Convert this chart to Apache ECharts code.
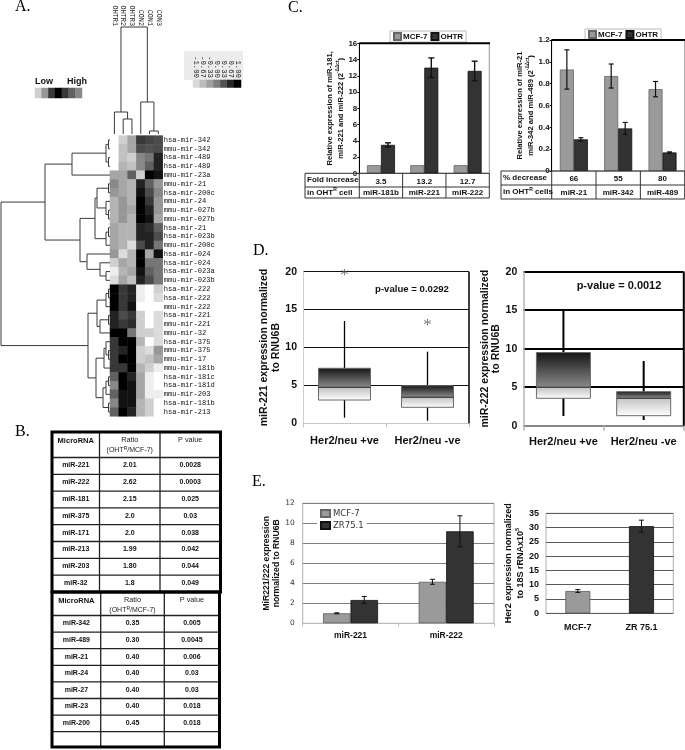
<!DOCTYPE html>
<html><head><meta charset="utf-8">
<script src="https://cdn.jsdelivr.net/npm/echarts@6/dist/echarts.min.js"></script>
<style>html,body{margin:0;padding:0;background:#fff}#main{width:685px;height:750px}</style>
</head><body><div id="main"></div>
<script>
// ================= DATA =================
// Panel A heatmap
const hmColumns = ['OHTR1','OHTR2','OHTR3','CON2','CON1','CON3'];
const hmRows = ['hsa-mir-342','mmu-mir-342','hsa-mir-489','hsa-mir-489','mmu-mir-23a','mmu-mir-21','hsa-mir-200c','mmu-mir-24','mmu-mir-027b','mmu-mir-027b','hsa-mir-21','hsa-mir-023b','mmu-mir-200c','hsa-mir-024','hsa-mir-024','hsa-mir-023a','mmu-mir-023b','hsa-mir-222','hsa-mir-222','mmu-mir-222','hsa-mir-221','mmu-mir-221','mmu-mir-32','hsa-mir-375','mmu-mir-375','mmu-mir-17','mmu-mir-181b','hsa-mir-181c','hsa-mir-181d','mmu-mir-203','hsa-mir-181b','hsa-mir-213'];
const hmValues = [
 [-1.33,-0.87,-0.40, 0.53, 0.45, 0.38],
 [-1.33,-0.71,-0.40, 0.38, 0.33, 0.38],
 [-1.33,-0.71,-0.87,-0.09, 0.07, 0.69],
 [-1.33,-0.56,-0.71,-0.09, 0.22, 0.69],
 [-0.40,-0.40, 0.22,-0.87, 1.00, 0.84],
 [-0.09,-0.40,-0.56, 0.69, 0.22,-0.24],
 [-0.24,-0.40,-0.56, 0.84, 0.38,-0.09],
 [-0.56,-0.24,-0.56, 1.00, 0.53,-0.24],
 [-0.56,-0.24,-0.40, 1.00, 0.69,-0.24],
 [-0.56,-0.24,-0.56, 1.00, 0.84,-0.40],
 [-0.40,-0.56,-0.56, 0.69, 0.62, 0.22],
 [-0.40,-0.56,-0.56, 0.69, 0.69, 0.38],
 [-0.40,-0.56,-1.02, 0.38, 0.69, 0.07],
 [-0.24,-1.02,-0.56, 1.00,-0.40, 0.84],
 [-0.87,-0.40,-0.56, 1.00, 0.07, 0.07],
 [-1.18,-0.56,-0.40, 0.84, 0.22, 0.07],
 [-1.02,-0.40,-0.71, 0.69, 0.38, 0.07],
 [ 1.00, 0.53, 0.69,-1.18,-1.33,-0.87],
 [ 1.00, 0.53, 0.69,-1.18,-1.33,-1.02],
 [ 1.00, 0.53, 0.84,-1.33,-1.33,-1.33],
 [ 0.69, 0.38, 0.53,-0.87,-1.33,-1.02],
 [ 0.69, 0.53, 0.62,-0.87,-1.33,-1.02],
 [ 1.00, 1.00, 0.07,-0.87,-0.87,-1.02],
 [ 0.53, 1.00, 1.00,-0.56,-1.33,-1.02],
 [ 0.53, 0.69, 1.00,-0.87,-1.02,-0.24],
 [ 0.53, 1.00, 1.00,-0.87,-0.71,-0.40],
 [ 0.53, 0.53, 1.00,-0.56,-0.87,-1.18],
 [ 0.22, 1.00, 0.69,-0.40,-1.18,-1.33],
 [-0.09, 1.00, 0.84,-0.40,-1.18,-1.33],
 [ 0.22, 0.84, 0.84,-0.40,-1.18,-1.18],
 [-0.09, 0.84, 0.84,-0.56,-0.87,-1.33],
 [ 0.22, 1.00, 0.69,-0.56,-0.87,-1.33]
];
const scaleTicks = ['-1.00','-0.67','-0.33','0.00','0.33','0.67','1.00'];
const scaleValues = [-1,-0.67,-0.33,0,0.33,0.67,1];
const lowHighValues = [-0.87,-0.24,0.53,1.0,0.53,0.22,-0.09];
// cluster trees (h = merge height; leaves = row / column index)
const rowTree = {h:109, c:[
 {h:65, c:[
   {h:38, c:[{h:4, c:[{h:1.5,c:[0,1]},{h:1.5,c:[2,3]}]}, 4]},
   {h:30, c:[
     {h:15, c:[{h:13, c:[{h:1.5,c:[5,6]},{h:4,c:[7,{h:1.5,c:[8,9]}]}]},{h:4,c:[{h:1.5,c:[10,11]},12]}]},
     {h:23, c:[13,{h:10,c:[14,{h:4,c:[15,16]}]}]}
   ]}
 ]},
 {h:22, c:[
   {h:13, c:[{h:4,c:[{h:1.5,c:[17,18]},19]},{h:10,c:[{h:1.5,c:[20,21]},22]}]},
   {h:14, c:[{h:6,c:[{h:4,c:[23,{h:1.5,c:[24,25]}]},26]},{h:7,c:[{h:4,c:[{h:1.5,c:[27,28]},29]},{h:1.5,c:[30,31]}]}]}
 ]}
]};
const colTree = {h:107, c:[{h:22, c:[0,{h:15,c:[1,2]}]},{h:32,c:[3,{h:3,c:[4,5]}]}]};

// Panel B tables
const tUpNames = ['miR-221','miR-222','miR-181','miR-375','miR-171','miR-213','miR-203','miR-32'];
const tUpRatio = ['2.01','2.62','2.15','2.0','2.0','1.99','1.80','1.8'];
const tUpP = ['0.0028','0.0003','0.025','0.03','0.038','0.042','0.044','0.049'];
const tDownNames = ['miR-342','miR-489','miR-21','miR-24','miR-27','miR-23','miR-200'];
const tDownRatio = ['0.35','0.30','0.40','0.40','0.40','0.40','0.45'];
const tDownP = ['0.005','0.0045','0.006','0.03','0.03','0.018','0.018'];

// Panel C
const cLeftCats = ['miR-181b','miR-221','miR-222'];
const cLeftFold = ['3.5','13.2','12.7'];
const cLeftMCF7 = [1.0,1.0,1.0];
const cLeftOHTR = [3.5,13.0,12.6];
const cLeftOHTRErr = [0.25,1.2,1.2];
const cRightCats = ['miR-21','miR-342','miR-489'];
const cRightDecrease = ['66','55','80'];
const cRightMCF7 = [0.93,0.87,0.75];
const cRightMCF7Err = [0.18,0.11,0.07];
const cRightOHTR = [0.29,0.39,0.17];
const cRightOHTRErr = [0.015,0.055,0.005];

// Panel D  [min, Q1, median, Q3, max]
const dCats = ['Her2/neu +ve','Her2/neu -ve'];
const dLeftStats = [[0.74,3.07,4.75,7.26,13.5],[0.34,2.11,3.43,4.96,9.45]];
const dLeftStars = [[0,19.56],[1,12.84]];
const dRightStats = [[1.26,3.56,5.0,9.5,14.9],[0.74,1.3,3.56,4.42,8.4]];

// Panel E
const eLeftCats = ['miR-221','miR-222'];
const eLeftMCF7 = [1.0,4.15];
const eLeftMCF7Err = [0.05,0.25];
const eLeftZR = [2.33,9.2];
const eLeftZRErr = [0.35,1.55];
const eRightCats = ['MCF-7','ZR 75.1'];
const eRightVals = [7.8,30.5];
const eRightErr = [0.5,2.1];

// ================= STYLE / HELPERS =================
const SANS = 'Liberation Sans, Arial, sans-serif';
const MONO = 'Liberation Mono, Courier New, monospace';
const SERIF = 'Liberation Serif, Times New Roman, serif';
const eRightColors = ['#9a9a9a','#333333'];

function T(x, y, text, o) {
  o = o || {};
  const al = o.align || 'center';
  const st = Object.assign({text: text, fill:'#111', fontFamily:SANS, fontSize:8, fontWeight:'bold',
     align:al, textAlign:al, verticalAlign:'middle', textVerticalAlign:'middle'}, o);
  return {type:'text', x:x, y:y, z:100, silent:true, style:st};
}
function L(x1,y1,x2,y2,c,w){ return {type:'line', z:100, silent:true, shape:{x1,y1,x2,y2}, style:{stroke:c, lineWidth:w}}; }

function dendroSegments(tree) {
  const segs = [];
  function walk(n) {
    if (typeof n === 'number') return {pos:n, h:0};
    const kids = n.c.map(walk);
    const pos = kids.reduce((s,k)=>s+k.pos,0)/kids.length;
    kids.forEach(k => segs.push([k.pos, k.h, k.pos, n.h]));
    segs.push([kids[0].pos, n.h, kids[kids.length-1].pos, n.h]);
    return {pos, h:n.h};
  }
  walk(tree);
  return segs;
}
function dendroSeries(xi, yi, segs) {
  return {type:'custom', xAxisIndex:xi, yAxisIndex:yi, data:segs, encode:{x:[0,2], y:[1,3]}, silent:true,
    renderItem(params, api){
      const a = api.coord([api.value(0), api.value(1)]), b = api.coord([api.value(2), api.value(3)]);
      return {type:'line', shape:{x1:a[0],y1:a[1],x2:b[0],y2:b[1]}, style:{stroke:'#3a3a3a', lineWidth:1}};
    }};
}
function errSeries(xi, yi, means, errs, offset, cap, lw) {
  return {type:'custom', xAxisIndex:xi, yAxisIndex:yi, z:10, silent:true,
    data: means.map((m,i)=>[i, m-errs[i], m+errs[i]]), encode:{x:0, y:[1,2]},
    renderItem(params, api){
      const i = api.value(0);
      const lo = api.coord([i, api.value(1)]), hi = api.coord([i, api.value(2)]);
      const x = lo[0] + offset;
      const st = {stroke:'#111', lineWidth:lw||1.2};
      return {type:'group', children:[
        {type:'line', shape:{x1:x,y1:hi[1],x2:x,y2:lo[1]}, style:st},
        {type:'line', shape:{x1:x-cap,y1:hi[1],x2:x+cap,y2:hi[1]}, style:st},
        {type:'line', shape:{x1:x-cap,y1:lo[1],x2:x+cap,y2:lo[1]}, style:st}]};
    }};
}
function boxSeries(xi, yi, stats, opt) {
  return {type:'custom', xAxisIndex:xi, yAxisIndex:yi, silent:true, z:5,
    data: stats.map((s,i)=>[i].concat(s)), encode:{x:0, y:[1,2,3,4,5]},
    renderItem(params, api){
      const i = api.value(0);
      const pMin=api.coord([i,api.value(1)]), pQ1=api.coord([i,api.value(2)]), pMd=api.coord([i,api.value(3)]),
            pQ3=api.coord([i,api.value(4)]), pMax=api.coord([i,api.value(5)]);
      const x = pMin[0], w = opt.boxW;
      const f = Math.max(0.01, Math.min(0.98, (pMd[1]-pQ3[1])/(pQ1[1]-pQ3[1])));
      const grad = new echarts.graphic.LinearGradient(0,0,0,1,[
        {offset:0,color:'#151515'},{offset:f,color:'#8a8a8a'},{offset:f+0.01,color:'#c4c4c4'},{offset:1,color:'#ffffff'}]);
      return {type:'group', children:[
        {type:'line', shape:{x1:x,y1:pMax[1],x2:x,y2:pMin[1]}, style:{stroke:'#000', lineWidth:opt.wl}},
        {type:'rect', shape:{x:x-w/2, y:pQ3[1], width:w, height:pQ1[1]-pQ3[1]}, style:{fill:grad, stroke:'#6a6a6a', lineWidth:1}},
        {type:'line', shape:{x1:x-w/2,y1:pMd[1],x2:x+w/2,y2:pMd[1]}, style:{stroke:'#2a2a2a', lineWidth:1}}
      ]};
    }};
}

// ================= BUILD =================
const hmData = [];
hmValues.forEach((row, r) => row.forEach((v, c) => hmData.push([c, r, v])));
const colSegs = dendroSegments(colTree);
const rowSegs = dendroSegments(rowTree).map(s => [s[1], s[0], s[3], s[2]]);

const gridBase = {containLabel:false, outerBoundsMode:'none', show:false};
const grids = [
  {left:110, top:135.6, width:52.7, height:280.7},    // 0 heatmap
  {left:110, top:27, width:52.7, height:107},         // 1 column dendrogram
  {left:1, top:135.6, width:109, height:280.7},       // 2 row dendrogram
  {left:193, top:80, width:48, height:7.5},           // 3 colour scale
  {left:35, top:88, width:47, height:10},             // 4 low/high bar
  {left:359.3, top:43.3, width:130, height:130, show:true, borderColor:'#999', borderWidth:1}, // 5 C left
  {left:551.7, top:40, width:133, height:131, show:true, borderColor:'#999', borderWidth:1},   // 6 C right
  {left:303, top:271.7, width:166, height:151.6},     // 7 D left
  {left:523.3, top:271.7, width:160.5, height:154},   // 8 D right
  {left:302.7, top:503.3, width:191.3, height:120, show:true, borderColor:'#b0b0b0', borderWidth:1}, // 9 E left
  {left:546, top:513.3, width:127.3, height:100, show:true, borderColor:'#b0b0b0', borderWidth:1}    // 10 E right
].map(g => Object.assign({}, gridBase, g));

const noAxis = {axisLine:{show:false}, axisTick:{show:false}, splitLine:{show:false}};
const boldLbl = (fs, extra) => Object.assign({fontFamily:SANS, fontWeight:'bold', fontSize:fs, color:'#111'}, extra||{});
const supRich = (fs, lh) => ({t:{fontFamily:SANS, fontWeight:'bold', fontSize:fs, lineHeight:lh, color:'#111'},
                              s:{fontFamily:SANS, fontWeight:'bold', fontSize:fs*0.62, lineHeight:lh, verticalAlign:'top', color:'#111'}});

const xAxis = [
  Object.assign({gridIndex:0, type:'category', data:hmColumns, position:'top', offset:108.6,
    axisLabel:{interval:0, rotate:90, margin:1, fontFamily:MONO, fontSize:6.8, color:'#111'}}, noAxis),
  {gridIndex:1, type:'value', min:-0.5, max:5.5, show:false},
  {gridIndex:2, type:'value', min:0, max:109, inverse:true, show:false},
  Object.assign({gridIndex:3, type:'category', data:scaleTicks, position:'top',
    axisLabel:{interval:0, rotate:90, margin:2, fontFamily:MONO, fontSize:7.3, color:'#111'}}, noAxis),
  {gridIndex:4, type:'category', data:lowHighValues.map((v,i)=>i), show:false},
  Object.assign({gridIndex:5, type:'category', data:cLeftCats,
    axisLabel:{interval:0, margin:2.9, formatter:(v,i)=>'{a|'+cLeftFold[i]+'}\n{a|'+v+'}',
      rich:{a:{fontFamily:SANS, fontWeight:'bold', fontSize:8, lineHeight:11, color:'#111'}}}}, noAxis),
  Object.assign({gridIndex:6, type:'category', data:cRightCats,
    axisLabel:{interval:0, margin:1.5, formatter:(v,i)=>'{a|'+cRightDecrease[i]+'}\n{a|'+v+'}',
      rich:{a:{fontFamily:SANS, fontWeight:'bold', fontSize:8, lineHeight:13.5, color:'#111'}}}}, noAxis),
  {gridIndex:7, type:'category', data:dCats, axisLine:{lineStyle:{color:'#c4c4c4'}},
    axisTick:{show:true, length:4, lineStyle:{color:'#c4c4c4'}}, splitLine:{show:false},
    axisLabel:{interval:0, margin:12.5, ...boldLbl(11)}},
  {gridIndex:8, type:'category', data:dCats, axisLine:{lineStyle:{color:'#b4b4b4', width:1.5}},
    axisTick:{show:true, length:5, lineStyle:{color:'#b4b4b4', width:1.5}}, splitLine:{show:false},
    axisLabel:{interval:0, margin:10.5, ...boldLbl(11)}},
  {gridIndex:9, type:'category', data:eLeftCats, axisLine:{lineStyle:{color:'#bbb'}},
    axisTick:{show:true, length:3, lineStyle:{color:'#bbb'}}, splitLine:{show:false},
    axisLabel:{interval:0, margin:8, ...boldLbl(8.5)}},
  {gridIndex:10, type:'category', data:eRightCats, axisLine:{show:false}, axisTick:{show:false}, splitLine:{show:false},
    axisLabel:{interval:0, margin:10, ...boldLbl(9)}}
];

const yAxis = [
  Object.assign({gridIndex:0, type:'category', data:hmRows, inverse:true, position:'right',
    axisLabel:{interval:0, margin:1, fontFamily:MONO, fontSize:7.1, color:'#111'}}, noAxis),
  {gridIndex:1, type:'value', min:0, max:107, show:false},
  {gridIndex:2, type:'value', min:-0.5, max:31.5, inverse:true, show:false},
  {gridIndex:3, type:'category', data:['s'], show:false},
  {gridIndex:4, type:'category', data:['s'], show:false},
  {gridIndex:5, type:'value', min:0, max:16, interval:2,
    axisLine:{show:true, lineStyle:{color:'#000', width:1}}, axisTick:{show:true, length:2, lineStyle:{color:'#000'}},
    splitLine:{show:false}, axisLabel:{margin:2, ...boldLbl(8)},
    name:'{t|Relative expression of miR-181,}\n{t|miR-221 and miR-222 (2}{s|-ΔΔct}{t|)}',
    nameLocation:'middle', nameRotate:90, nameGap:12.5, nameTextStyle:{rich:supRich(7.6,10.5)}},
  {gridIndex:6, type:'value', min:0, max:1.2, interval:0.2,
    axisLine:{show:true, lineStyle:{color:'#000', width:1}}, axisTick:{show:true, length:2, lineStyle:{color:'#000'}},
    splitLine:{show:false}, axisLabel:{margin:2, formatter:v=> v===0 ? '0' : v.toFixed(1), ...boldLbl(8)},
    name:'{t|Relative expression of miR-21}\n{t|miR-342 and miR-489 (2}{s|-ΔΔct}{t|)}',
    nameLocation:'middle', nameRotate:90, nameGap:15, nameTextStyle:{rich:supRich(7.6,10.5)}},
  {gridIndex:7, type:'value', min:0, max:20, interval:5,
    axisLine:{show:true, lineStyle:{color:'#cfcfcf'}}, axisTick:{show:false},
    splitLine:{show:true, lineStyle:{color:'#111', width:1}}, axisLabel:{margin:6, ...boldLbl(10.5)},
    name:'{t|miR-221 expression normalized}\n{t|to RNU6B}', nameLocation:'middle', nameRotate:90, nameGap:16,
    nameTextStyle:{rich:supRich(10.5,12)}},
  {gridIndex:8, type:'value', min:0, max:20, interval:5,
    axisLine:{show:true, lineStyle:{color:'#b4b4b4', width:1.5}}, axisTick:{show:false},
    splitLine:{show:true, lineStyle:{color:'#000', width:2}}, axisLabel:{margin:6, ...boldLbl(10.5)},
    name:'{t|miR-222 expression normalized}\n{t|to RNU6B}', nameLocation:'middle', nameRotate:90, nameGap:17,
    nameTextStyle:{rich:supRich(10.5,11)}},
  {gridIndex:9, type:'value', min:0, max:12, interval:2,
    axisLine:{show:false}, axisTick:{show:false},
    splitLine:{show:true, lineStyle:{color:'#808080', width:1}},
    axisLabel:{margin:8, fontFamily:'DejaVu Sans, Verdana, sans-serif', fontSize:7.5, color:'#333'},
    name:'{t|MiR221/222 expression}\n{t|normalized to RNU6B}', nameLocation:'middle', nameRotate:90, nameGap:12,
    nameTextStyle:{rich:supRich(8.6,10.5)}},
  {gridIndex:10, type:'value', min:0, max:35, interval:5,
    axisLine:{show:false}, axisTick:{show:false},
    splitLine:{show:true, lineStyle:{color:'#5a5a5a', width:1}}, axisLabel:{margin:7, ...boldLbl(9)},
    name:'{t|Her2 expression normalized}\n{t|to 18S rRNAx10}{s|5}', nameLocation:'middle', nameRotate:90, nameGap:16,
    nameTextStyle:{rich:supRich(9,12)}}
];

const series = [
  {type:'heatmap', xAxisIndex:0, yAxisIndex:0, data:hmData, silent:true, itemStyle:{borderWidth:0}},
  {type:'heatmap', xAxisIndex:3, yAxisIndex:3, data:scaleValues.map((v,i)=>[i,0,v]), silent:true},
  {type:'heatmap', xAxisIndex:4, yAxisIndex:4, data:lowHighValues.map((v,i)=>[i,0,v]), silent:true},
  dendroSeries(1, 1, colSegs),
  dendroSeries(2, 2, rowSegs),
  // C left
  {type:'bar', name:'MCF-7', xAxisIndex:5, yAxisIndex:5, data:cLeftMCF7, barWidth:14, barGap:'0%', silent:true,
    itemStyle:{color:'#9a9a9a', borderColor:'#666', borderWidth:0.8}},
  {type:'bar', name:'OHTR', xAxisIndex:5, yAxisIndex:5, data:cLeftOHTR, barWidth:14, barGap:'0%', silent:true,
    itemStyle:{color:'#333', borderColor:'#111', borderWidth:0.8}},
  errSeries(5, 5, cLeftOHTR, cLeftOHTRErr, 7, 3, 1.4),
  // C right
  {type:'bar', name:'MCF-7', xAxisIndex:6, yAxisIndex:6, data:cRightMCF7, barWidth:14, barGap:'0%', silent:true,
    itemStyle:{color:'#9a9a9a', borderColor:'#666', borderWidth:0.8}},
  {type:'bar', name:'OHTR', xAxisIndex:6, yAxisIndex:6, data:cRightOHTR, barWidth:14, barGap:'0%', silent:true,
    itemStyle:{color:'#333', borderColor:'#111', borderWidth:0.8}},
  errSeries(6, 6, cRightMCF7, cRightMCF7Err, -7, 2.5, 1.2),
  errSeries(6, 6, cRightOHTR, cRightOHTRErr, 7, 2.5, 1.2),
  // D
  boxSeries(7, 7, dLeftStats, {boxW:52, wl:1.3}),
  {type:'scatter', xAxisIndex:7, yAxisIndex:7, data:dLeftStars, symbol:'circle', symbolSize:1, silent:true, z:20,
    itemStyle:{color:'rgba(0,0,0,0)'},
    label:{show:true, position:'inside', formatter:'*', fontFamily:SERIF, fontSize:17, color:'#555'}},
  boxSeries(8, 8, dRightStats, {boxW:54, wl:2}),
  // E left
  {type:'bar', name:'MCF-7', xAxisIndex:9, yAxisIndex:9, data:eLeftMCF7, barWidth:27.5, barGap:'0%', silent:true,
    itemStyle:{color:'#9a9a9a', borderColor:'#5a5a5a', borderWidth:0.8}},
  {type:'bar', name:'ZR75.1', xAxisIndex:9, yAxisIndex:9, data:eLeftZR, barWidth:27.5, barGap:'0%', silent:true,
    itemStyle:{color:'#333', borderColor:'#111', borderWidth:0.8}},
  errSeries(9, 9, eLeftMCF7, eLeftMCF7Err, -13.75, 2.5, 1),
  errSeries(9, 9, eLeftZR, eLeftZRErr, 13.75, 2.5, 1),
  // E right
  {type:'bar', name:'Her2', xAxisIndex:10, yAxisIndex:10, barWidth:25, silent:true,
    data:eRightVals.map((v,i)=>({value:v, itemStyle:{color:eRightColors[i], borderColor:i===0?'#5a5a5a':'#111', borderWidth:0.8}}))},
  errSeries(10, 10, eRightVals, eRightErr, 0, 2.5, 1)
];

// ---------- graphic: labels, tables, frames ----------
const g = [];
// panel letters
[['A.',15,6.7],['B.',15,432],['C.',288,8],['D.',253,250.5],['E.',252,482]].forEach(p =>
  g.push(T(p[1], p[2], p[0], {align:'left', fontFamily:SERIF, fontSize:16, fontWeight:'normal', fill:'#000'})));
// A legends
g.push({type:'rect', z:-1, silent:true, shape:{x:184, y:51, width:59, height:29}, style:{fill:'#ececec'}});
g.push(T(35, 81.5, 'Low', {align:'left', fontFamily:'Liberation Sans Narrow, Arial Narrow, '+SANS, fontSize:9}));
g.push(T(87, 81.5, 'High', {align:'right', fontFamily:'Liberation Sans Narrow, Arial Narrow, '+SANS, fontSize:9}));

// B tables
const supR = {t:{fontFamily:SANS, fontSize:7, fontWeight:'normal', fill:'#222', color:'#222'},
              s:{fontFamily:SANS, fontSize:5, fontWeight:'normal', fill:'#222', color:'#222', verticalAlign:'top', lineHeight:9}};
function buildTable(cols, top, headBottom, rowH, bottom, names, ratios, ps) {
  const Lx = cols[0], Rx = cols[3];
  const rowTops = names.map((n,i)=> headBottom + i*rowH);
  rowTops.forEach(y => g.push(L(Lx, y, Rx, y, '#222', 1.3)));
  if (headBottom + names.length*rowH < bottom - 2) g.push(L(Lx, headBottom + names.length*rowH, Rx, headBottom + names.length*rowH, '#222', 1.3));
  [cols[1], cols[2]].forEach(x => g.push(L(x, top, x, bottom, '#222', 1.3)));
  g.push({type:'rect', z:101, silent:true, shape:{x:Lx, y:top, width:Rx-Lx, height:bottom-top}, style:{fill:'none', stroke:'#000', lineWidth:3}});
  const c0 = (cols[0]+cols[1])/2, c1 = (cols[1]+cols[2])/2, c2 = (cols[2]+cols[3])/2;
  g.push(T(c0, top+8.5, 'MicroRNA', {fontSize:7.5}));
  g.push(T(c1, top+7.5, 'Ratio', {fontSize:7.3, fontWeight:'normal', fill:'#222'}));
  g.push(T(c1, top+18.5, '{t|(OHT}{s|R}{t|/MCF-7)}', {rich:supR}));
  g.push(T(c2, top+7.5, 'P value', {fontSize:7.3, fontWeight:'normal', fill:'#222'}));
  names.forEach((n,i) => {
    const y = rowTops[i] + 8;
    g.push(T(c0, y, n, {fontSize:7}));
    g.push(T(c1, y, ratios[i], {fontSize:7}));
    g.push(T(c2, y, ps[i], {fontSize:7}));
  });
}
buildTable([52, 99.5, 160, 220.5], 432, 457.5, 16.8, 592, tUpNames, tUpRatio, tUpP);
buildTable([52, 100.7, 164.3, 219.5], 592, 615.5, 16.6, 747, tDownNames, tDownRatio, tDownP);

// C tables and frames
const cSup = {b:{fontFamily:SANS, fontWeight:'bold', fontSize:8, color:'#111', fill:'#111'},
              s:{fontFamily:SANS, fontWeight:'bold', fontSize:5, color:'#111', fill:'#111', verticalAlign:'top', lineHeight:10}};
function cTable(left, plotL, plotR, top, mid, bottom, ncat, lab1, lab2) {
  g.push({type:'rect', z:100, silent:true, shape:{x:left, y:top, width:plotR-left, height:bottom-top}, style:{fill:'none', stroke:'#333', lineWidth:1}});
  g.push(L(left, mid, plotR, mid, '#333', 1));
  for (let i=0;i<ncat;i++){ const x = plotL + i*(plotR-plotL)/ncat; g.push(L(x, top, x, bottom, '#333', 1)); }
  g.push(T(left+2, (top+mid)/2, lab1, {align:'left'}));
  g.push(T(left+2, (mid+bottom)/2, lab2, {align:'left', rich:cSup}));
}
cTable(305, 359.3, 489.3, 173.3, 187, 198, 3, 'Fold increase', '{b|in OHT}{s|R}{b| cell}');
cTable(501, 551.7, 684.7, 171, 185, 199, 3, '% decrease', '{b|in OHT}{s|R}{b| cells}');
g.push(L(359.3, 43.3, 490, 43.3, '#000', 2));
g.push(L(551.7, 40, 685, 40, '#000', 2));
// D frames and p-values
g.push(L(469, 271.7, 469, 423.3, '#000', 1.5));
g.push(L(683.8, 271.7, 683.8, 425.7, '#000', 2));
g.push(T(412, 289, 'p-value = 0.0292', {fontSize:9.6}));
g.push(T(619, 286, 'p-value = 0.0012', {fontSize:11}));

const option = {
  animation:false,
  backgroundColor:'#fff',
  grid:grids,
  xAxis:xAxis,
  yAxis:yAxis,
  visualMap:[{type:'continuous', show:false, seriesIndex:[0,1,2], min:-1.333, max:1,
    inRange:{color:['#ffffff','#dadada','#bdbdbd','#a0a0a0','#7f7f7f','#525252','#262626','#000000']}}],
  legend:[
    {data:['MCF-7','OHTR'], left:390, top:31, icon:'rect', itemWidth:7, itemHeight:7, itemGap:3, padding:[1,3],
     borderColor:'#bbb', borderWidth:1, backgroundColor:'#fff', selectedMode:false,
     textStyle:{fontFamily:SANS, fontWeight:'bold', fontSize:8, color:'#111', padding:[0,0,0,-3]}},
    {data:['MCF-7','OHTR'], left:585, top:29, icon:'rect', itemWidth:7, itemHeight:7, itemGap:3, padding:[1,3],
     borderColor:'#bbb', borderWidth:1, backgroundColor:'#fff', selectedMode:false,
     textStyle:{fontFamily:SANS, fontWeight:'bold', fontSize:8, color:'#111', padding:[0,0,0,-3]}},
    {data:['MCF-7','ZR75.1'], left:317, top:507, orient:'vertical', icon:'rect', itemWidth:9, itemHeight:7, itemGap:3,
     padding:[2,3], backgroundColor:'#fff', selectedMode:false,
     textStyle:{fontFamily:'DejaVu Sans, Verdana, sans-serif', fontSize:8.5, color:'#333', padding:[0,0,0,-2]}}
  ],
  series:series,
  graphic:{elements:g}
};
const chart = echarts.init(document.getElementById('main'), null, {renderer:'canvas', width:685, height:750});
chart.setOption(option);
</script>
</body></html>
